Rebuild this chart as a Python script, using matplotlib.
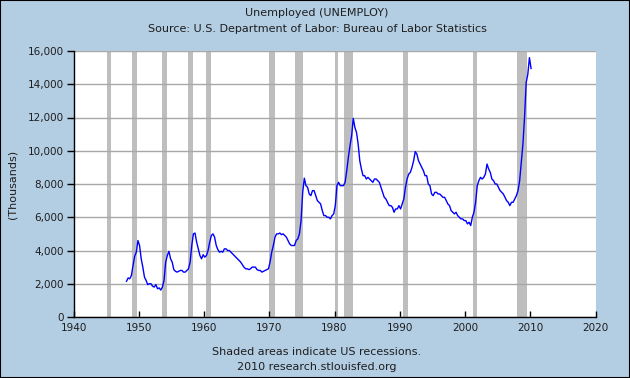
import matplotlib
matplotlib.use("Agg")
import matplotlib.pyplot as plt
import numpy as np
from matplotlib.ticker import FuncFormatter

# Quarterly unemployed (thousands), 1948Q1 .. 2010Q1
start_year = 1948
unemployed = [
    2150, 2350, 2300, 2500,      # 1948
    3100, 3650, 3900, 4600,      # 1949
    4300, 3500, 3000, 2400,      # 1950
    2200, 1950, 2000, 2000,      # 1951
    1850, 1800, 1950, 1700,      # 1952
    1750, 1620, 1800, 2200,      # 1953
    3300, 3700, 3950, 3500,      # 1954
    3300, 2850, 2750, 2700,      # 1955
    2750, 2800, 2800, 2700,      # 1956
    2700, 2800, 2900, 3300,      # 1957
    4300, 5000, 5050, 4500,      # 1958
    4100, 3700, 3500, 3750,      # 1959
    3600, 3700, 4000, 4500,      # 1960
    4900, 5000, 4800, 4300,      # 1961
    4050, 3900, 3950, 3900,      # 1962
    4100, 4100, 4000, 4000,      # 1963
    3900, 3800, 3700, 3600,      # 1964
    3500, 3400, 3300, 3150,      # 1965
    3000, 2900, 2900, 2850,      # 1966
    2900, 3000, 3000, 3000,      # 1967
    2850, 2800, 2800, 2700,      # 1968
    2750, 2800, 2850, 2900,      # 1969
    3300, 3900, 4300, 4800,      # 1970
    5000, 5000, 5050, 4950,      # 1971
    5000, 4900, 4800, 4600,      # 1972
    4400, 4300, 4300, 4300,      # 1973
    4600, 4700, 5000, 5800,      # 1974
    7500, 8350, 7900, 7800,      # 1975
    7400, 7300, 7600, 7600,      # 1976
    7300, 7000, 6900, 6800,      # 1977
    6400, 6100, 6100, 6000,      # 1978
    6000, 5900, 6100, 6200,      # 1979
    6700, 7900, 8100, 7900,      # 1980
    7900, 7900, 8100, 8800,      # 1981
    9600, 10300, 10900, 11950,   # 1982
    11400, 11100, 10400, 9400,   # 1983
    8900, 8500, 8500, 8300,      # 1984
    8400, 8300, 8200, 8100,      # 1985
    8300, 8300, 8200, 8100,      # 1986
    7800, 7500, 7200, 7100,      # 1987
    6900, 6700, 6700, 6600,      # 1988
    6300, 6500, 6500, 6700,      # 1989
    6500, 6800, 7100, 7800,      # 1990
    8300, 8600, 8700, 9000,      # 1991
    9400, 9950, 9800, 9400,      # 1992
    9200, 9000, 8800, 8500,      # 1993
    8500, 8000, 7900, 7400,      # 1994
    7300, 7500, 7500, 7400,      # 1995
    7400, 7300, 7200, 7200,      # 1996
    7000, 6800, 6700, 6400,      # 1997
    6300, 6200, 6300, 6100,      # 1998
    6000, 5900, 5900, 5800,      # 1999
    5800, 5600, 5700, 5500,      # 2000
    6000, 6300, 6900, 7900,      # 2001
    8200, 8400, 8300, 8400,      # 2002
    8600, 9200, 8900, 8700,      # 2003
    8300, 8200, 8000, 8000,      # 2004
    7800, 7600, 7500, 7400,      # 2005
    7200, 7000, 6900, 6700,      # 2006
    6900, 6900, 7100, 7300,      # 2007
    7600, 8200, 9300, 10400,     # 2008
    12000, 14100, 14600, 15600,  # 2009
    14950,                       # 2010
]

recessions = [
    (1945.1, 1945.8), (1948.9, 1949.8), (1953.5, 1954.4), (1957.6, 1958.3),
    (1960.3, 1961.1), (1969.9, 1970.9), (1973.9, 1975.2), (1980.0, 1980.5),
    (1981.5, 1982.9), (1990.5, 1991.2), (2001.2, 2001.9), (2007.9, 2009.5),
]

x_ticks = [1940, 1950, 1960, 1970, 1980, 1990, 2000, 2010, 2020]
y_ticks = [0, 2000, 4000, 6000, 8000, 10000, 12000, 14000, 16000]

bg = "#B3CDE3"
txt = "#1E1E1E"
W, H = 630, 378
fig = plt.figure(figsize=(W / 100, H / 100), dpi=100, facecolor=bg)
fig.patches.append(plt.Rectangle((0, 0), 1, 1, transform=fig.transFigure,
                                 fill=False, edgecolor="#000000", lw=1.5))

l, r, t, b = 73.5, 595.5, 51, 317
ax = fig.add_axes([l / W, (H - b) / H, (r - l) / W, (b - t) / H])
ax.set_facecolor("white")

dates = start_year + np.arange(len(unemployed)) * 0.25 + 0.125
for s, e in recessions:
    ax.axvspan(s, e, color="#BEBEBE", lw=0, zorder=1)
ax.plot(dates, unemployed, color="#0000FF", lw=1.0, zorder=3)

ax.set_xlim(1940, 2020)
ax.set_ylim(0, 16000)
ax.set_xticks(x_ticks)
ax.set_yticks(y_ticks)
ax.yaxis.set_major_formatter(FuncFormatter(lambda v, p: f"{int(v):,}"))
ax.grid(axis="y", color="#A8A8A8", lw=1, zorder=2)
for sp in ["top", "right"]:
    ax.spines[sp].set_visible(False)
for sp in ["left", "bottom"]:
    ax.spines[sp].set_color("black")
    ax.spines[sp].set_linewidth(1)
    ax.spines[sp].set_zorder(4)
ax.tick_params(axis="y", direction="out", length=5, width=1, labelsize=7.5,
               pad=2, colors="black", labelcolor=txt)
ax.tick_params(axis="x", direction="in", length=4, width=1, labelsize=7.5,
               pad=4, colors="black", labelcolor=txt)

ax.set_ylabel("(Thousands)", fontsize=8, color=txt)
ax.yaxis.set_label_coords(-(l - 17) / (r - l), 0.5)

fig.text(317 / W, 1 - 13 / H, "Unemployed (UNEMPLOY)", ha="center", va="center",
         fontsize=8, color=txt)
fig.text(317 / W, 1 - 29 / H, "Source: U.S. Department of Labor: Bureau of Labor Statistics",
         ha="center", va="center", fontsize=8, color=txt)
fig.text(317 / W, 1 - 352 / H, "Shaded areas indicate US recessions.",
         ha="center", va="center", fontsize=8, color=txt)
fig.text(317 / W, 1 - 367 / H, "2010 research.stlouisfed.org",
         ha="center", va="center", fontsize=8, color=txt)

fig.savefig("out.png", dpi=100, facecolor=bg)
